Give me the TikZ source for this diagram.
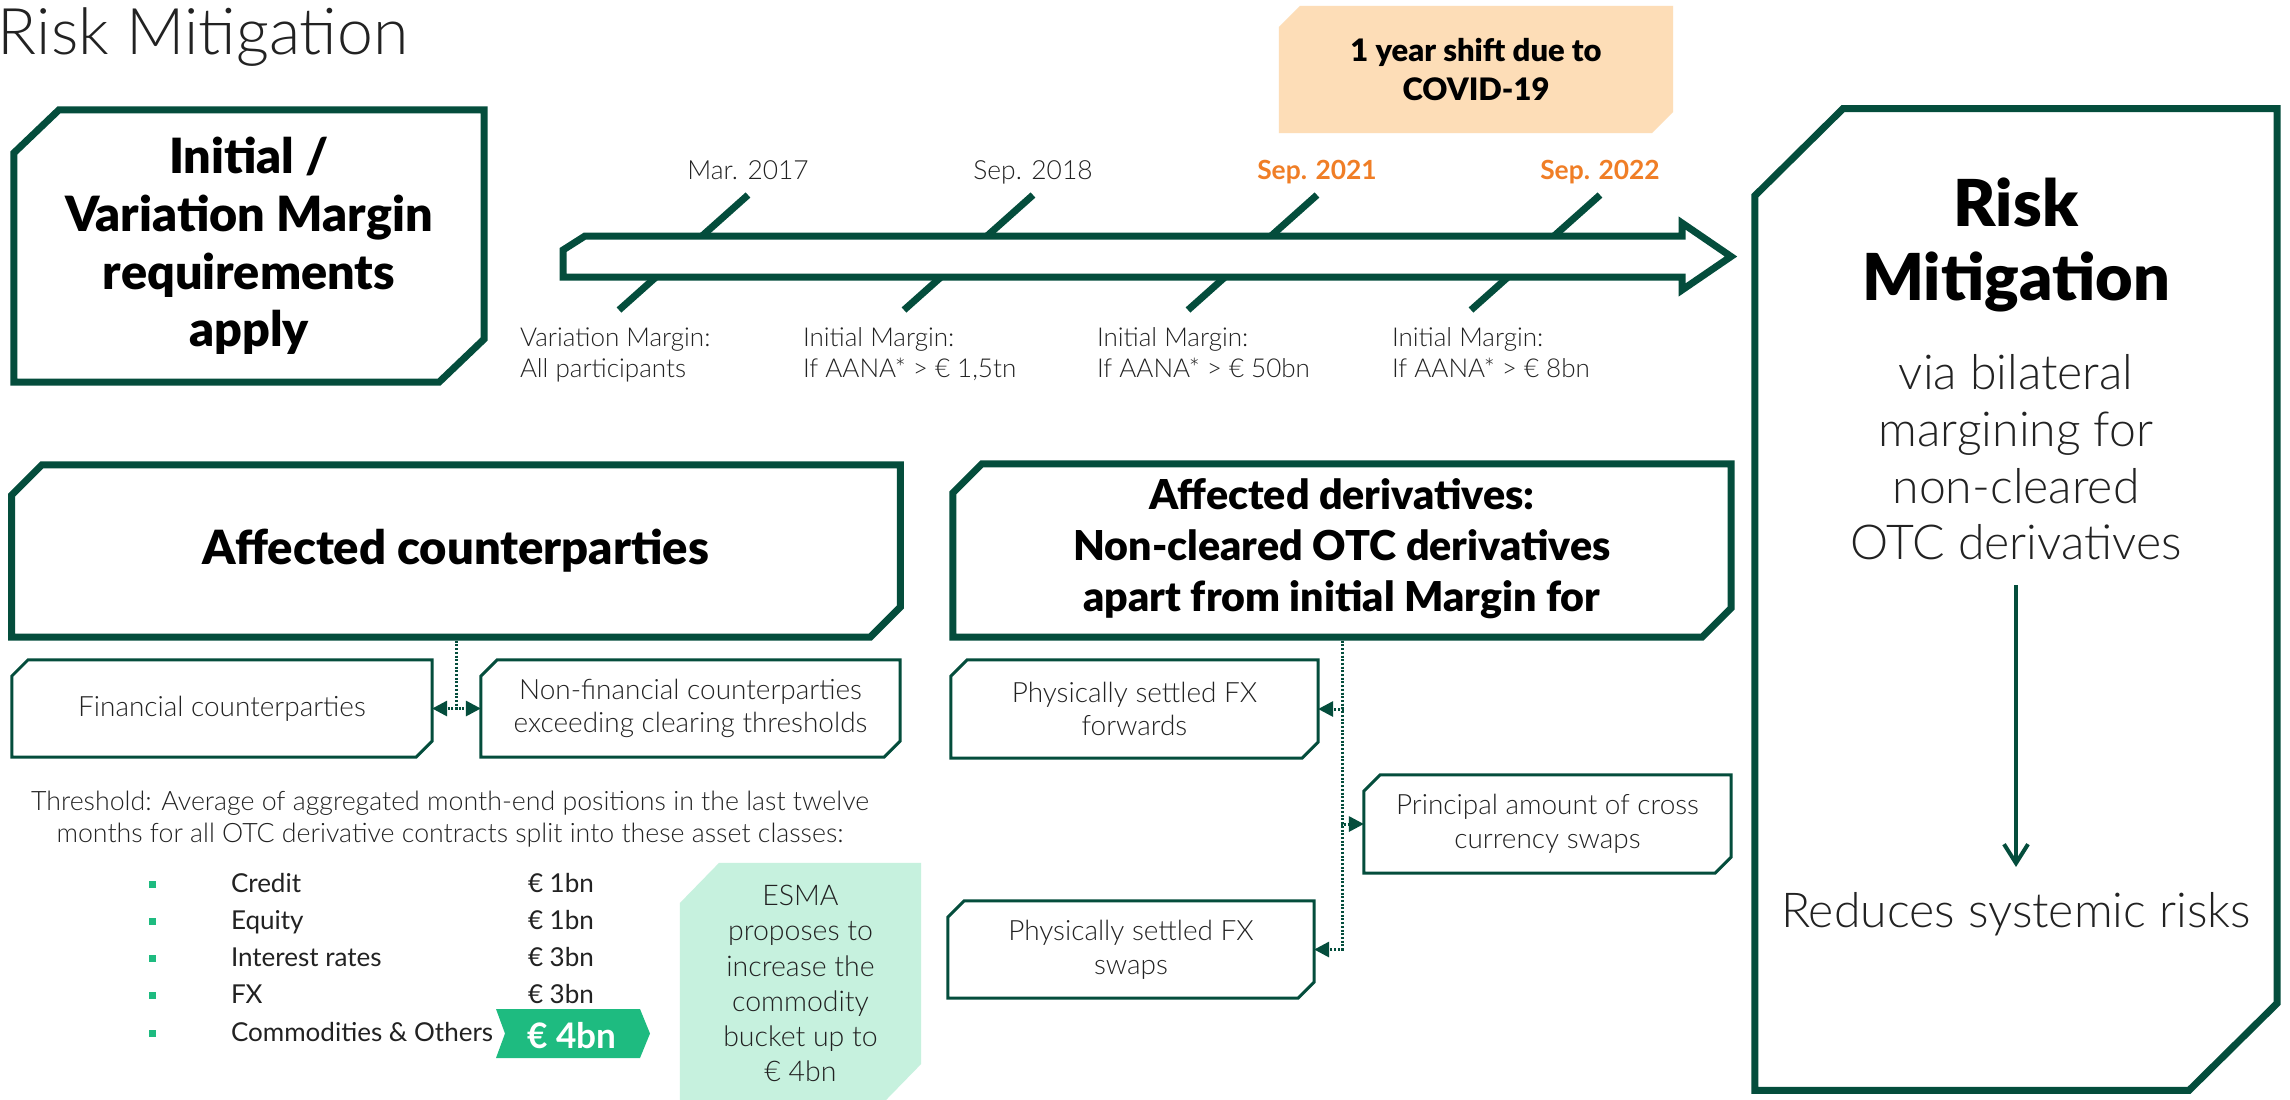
\documentclass[tikz,border=0pt]{standalone}
\usepackage{fontspec}
\setmainfont{Lato}
\newfontfamily\latolight{Lato Light}
\newfontfamily\latoblack{Lato Black}
\usetikzlibrary{arrows.meta}
\pgfdeclarelayer{bg}
\pgfsetlayers{bg,main}
\definecolor{dkgreen}{HTML}{044D3C}
\definecolor{orng}{HTML}{F07E26}
\definecolor{peach}{HTML}{FDDDB7}
\definecolor{mint}{HTML}{C6F1DE}
\definecolor{bgreen}{HTML}{1EBB80}
\definecolor{txtc}{HTML}{222222}
\newcommand\fsz[2]{\fontsize{#1}{#2}\selectfont}
% chamfered outline around a named node: [style]{node}{x-chamfer}{y-chamfer}
\newcommand\chamf[4][]{\path[#1] ([yshift=-#4]#2.north west) -- ([xshift=#3]#2.north west) -- (#2.north east) -- ([yshift=#4]#2.south east) -- ([xshift=-#3]#2.south east) -- (#2.south west) -- cycle;}
\tikzset{
  txt/.style={inner sep=0pt, outer sep=0pt, text=txtc},
  boxn/.style={inner sep=0pt, outer sep=0pt, text=txtc, align=center},
  bigline/.style={draw=dkgreen, line width=0.07cm, line join=miter},
  smline/.style={draw=dkgreen, line width=0.03cm, line join=miter},
  tick/.style={draw=dkgreen, line width=0.07cm},
  smallf/.style={font=\latolight\fsz{7.95}{9.6}},
  datef/.style={font=\latolight\fsz{7.5}{9}},
  odatef/.style={font=\bfseries\fsz{7.5}{9}, text=orng},
  lowf/.style={font=\latolight\fsz{7.4}{8.8}, align=left},
  listf/.style={font=\fsz{7.4}{9}},
  dotconn/.style={draw=dkgreen, line width=0.03cm, dash pattern=on 0.02cm off 0.017cm,
    -{Triangle[length=0.15cm,width=0.15cm]}}
}
\begin{document}
\begin{tikzpicture}[x=0.01cm,y=-0.01cm]
\useasboundingbox (0,0) rectangle (2290,1099);
\begin{pgfonlayer}{bg}
\fill[white] (0,0) rectangle (2290,1099);
\end{pgfonlayer}

% title
\node[txt, font=\latolight\fsz{18.3}{22}, anchor=base west] (title) at (-2,54) {Risk Mitigation};

% initial / variation margin box
\node[boxn, minimum width=4.70cm, minimum height=2.72cm, font=\latoblack\fsz{13.8}{16.36}, text=black] (ivm) at (249,246) {Initial /\\Variation Margin\\requirements\\apply};
\chamf[bigline]{ivm}{0.45cm}{0.43cm}

% covid box
\node[boxn, minimum width=3.94cm, minimum height=1.27cm, font=\latoblack\fsz{8.8}{11}, text=black] (covid) at (1476,69.5) {1 year shift due to\\COVID-19};
\begin{pgfonlayer}{bg}
\chamf[fill=peach]{covid}{0.21cm}{0.21cm}
\end{pgfonlayer}

% timeline ticks (behind the arrow)
\foreach \t in {748,1033,1317,1600}{
  \draw[tick] (\t,195) -- (\t-129,310);
}
% timeline arrow
\draw[bigline, fill=white] (563,250) -- (585,236) -- (1682,236) -- (1682,223) -- (1731,256.5) -- (1682,290) -- (1682,277) -- (563,277) -- cycle;

% dates
\node[txt, datef, anchor=base] (d1) at (748,179) {Mar. 2017};
\node[txt, datef, anchor=base] (d2) at (1033,179) {Sep. 2018};
\node[txt, odatef, anchor=base] (d3) at (1317,179) {Sep. 2021};
\node[txt, odatef, anchor=base] (d4) at (1600,179) {Sep. 2022};

% lower labels
\node[txt, lowf, anchor=north west] (l1) at (520,328) {Variation Margin:\\All participants};
\node[txt, lowf, anchor=north west] (l2) at (803,328) {Initial Margin:\\If AANA* > € 1,5tn};
\node[txt, lowf, anchor=north west] (l3) at (1097,328) {Initial Margin:\\If AANA* > € 50bn};
\node[txt, lowf, anchor=north west] (l4) at (1392,328) {Initial Margin:\\If AANA* > € 8bn};

% right box
\node[boxn, minimum width=5.22cm, minimum height=9.81cm] (rm) at (2016,599.5) {};
\chamf[bigline]{rm}{0.88cm}{0.87cm}
\node[txt, font=\latoblack\fsz{18.4}{21.05}, align=center, anchor=north, text=black] (rmt) at (2016,178) {Risk\\Mitigation};
\node[txt, font=\latolight\fsz{13.7}{16.2}, align=center, anchor=north] (via) at (2016,354) {via bilateral\\margining for\\non-cleared\\OTC derivatives};
\node[txt, font=\latolight\fsz{13.7}{16}, anchor=base] (red) at (2016,927) {Reduces systemic risks};
\draw[dkgreen, line width=0.04cm, -{Straight Barb[length=0.19cm,width=0.24cm]}, shorten <=0.25cm, shorten >=0.25cm] (via.south) -- (red.north);

% affected counterparties
\node[boxn, minimum width=8.88cm, minimum height=1.72cm, font=\latoblack\fsz{13.4}{16}, text=black] (aff) at (456,551) {Affected counterparties};
\chamf[bigline]{aff}{0.30cm}{0.30cm}
\node[boxn, minimum width=4.20cm, minimum height=0.97cm, smallf] (fin) at (222,708.5) {Financial counterparties};
\chamf[smline]{fin}{0.16cm}{0.16cm}
\node[boxn, minimum width=4.19cm, minimum height=0.97cm, smallf] (nfin) at (690.5,708.5) {Non-financial counterparties\\exceeding clearing thresholds};
\chamf[smline]{nfin}{0.16cm}{0.16cm}
\draw[dotconn] (aff.south) |- (fin.east);
\draw[dotconn] (aff.south) |- (nfin.west);

% affected derivatives
\node[boxn, minimum width=7.78cm, minimum height=1.73cm, font=\latoblack\fsz{11.7}{14.5}, text=black] (der) at (1342,550.5) {\raisebox{-1.1pt}{\begin{tabular}{@{}c@{}}Affected derivatives:\\Non-cleared OTC derivatives\\apart from initial Margin for\end{tabular}}};
\chamf[bigline]{der}{0.29cm}{0.29cm}
\node[boxn, minimum width=3.67cm, minimum height=0.98cm, smallf] (fwd) at (1134.5,709) {Physically settled FX\\forwards};
\chamf[smline]{fwd}{0.16cm}{0.16cm}
\node[boxn, minimum width=3.67cm, minimum height=0.98cm, smallf] (princ) at (1547.5,824) {Principal amount of cross\\currency swaps};
\chamf[smline]{princ}{0.16cm}{0.16cm}
\node[boxn, minimum width=3.66cm, minimum height=0.97cm, smallf] (swaps) at (1131,949.5) {Physically settled FX\\swaps};
\chamf[smline]{swaps}{0.16cm}{0.16cm}
\draw[dotconn] (der.south) |- (fwd.east);
\draw[dotconn] (der.south) |- (princ.west);
\draw[dotconn] (der.south) |- (swaps.east);

% threshold text
\node[txt, font=\latolight\fsz{7.6}{9.1}, align=center, anchor=north] (thr) at (450,791) {Threshold: Average of aggregated month-end positions in the last twelve\\months for all OTC derivative contracts split into these asset classes:};

% list
\foreach \yy/\lab [count=\i] in {892/Credit, 929.3/Equity, 966.6/Interest rates, 1003.9/FX, 1041.2/Commodities \& Others}{
  \fill[bgreen] (148.5,\yy-11.5) rectangle ++(7,7);
  \node[txt, listf, anchor=base west] (lab\i) at (231,\yy) {\lab};
}
\node[txt, listf, anchor=base west] (val1) at (528,892) {€ 1bn};
\node[txt, listf, anchor=base west] (val2) at (528,929.3) {€ 1bn};
\node[txt, listf, anchor=base west] (val3) at (528,966.6) {€ 3bn};
\node[txt, listf, anchor=base west] (val4) at (528,1003.9) {€ 3bn};
\node[txt, font=\bfseries\fsz{10}{12}, text=white, anchor=base] (fourbn) at (572,1048) {€ 4bn};
\begin{pgfonlayer}{bg}
\fill[bgreen] (496,1009) -- (640,1009) -- (650,1033.5) -- (640,1058) -- (496,1058) -- (505,1033.5) -- cycle;
\end{pgfonlayer}

% ESMA box
\node[boxn, minimum width=2.41cm, minimum height=2.41cm, font=\latolight\fsz{8.1}{10}] (esma) at (800.5,983.5) {ESMA\\proposes to\\increase the\\commodity\\bucket up to\\€ 4bn};
\begin{pgfonlayer}{bg}
\chamf[fill=mint]{esma}{0.39cm}{0.40cm}
\end{pgfonlayer}
\end{tikzpicture}
\end{document}
